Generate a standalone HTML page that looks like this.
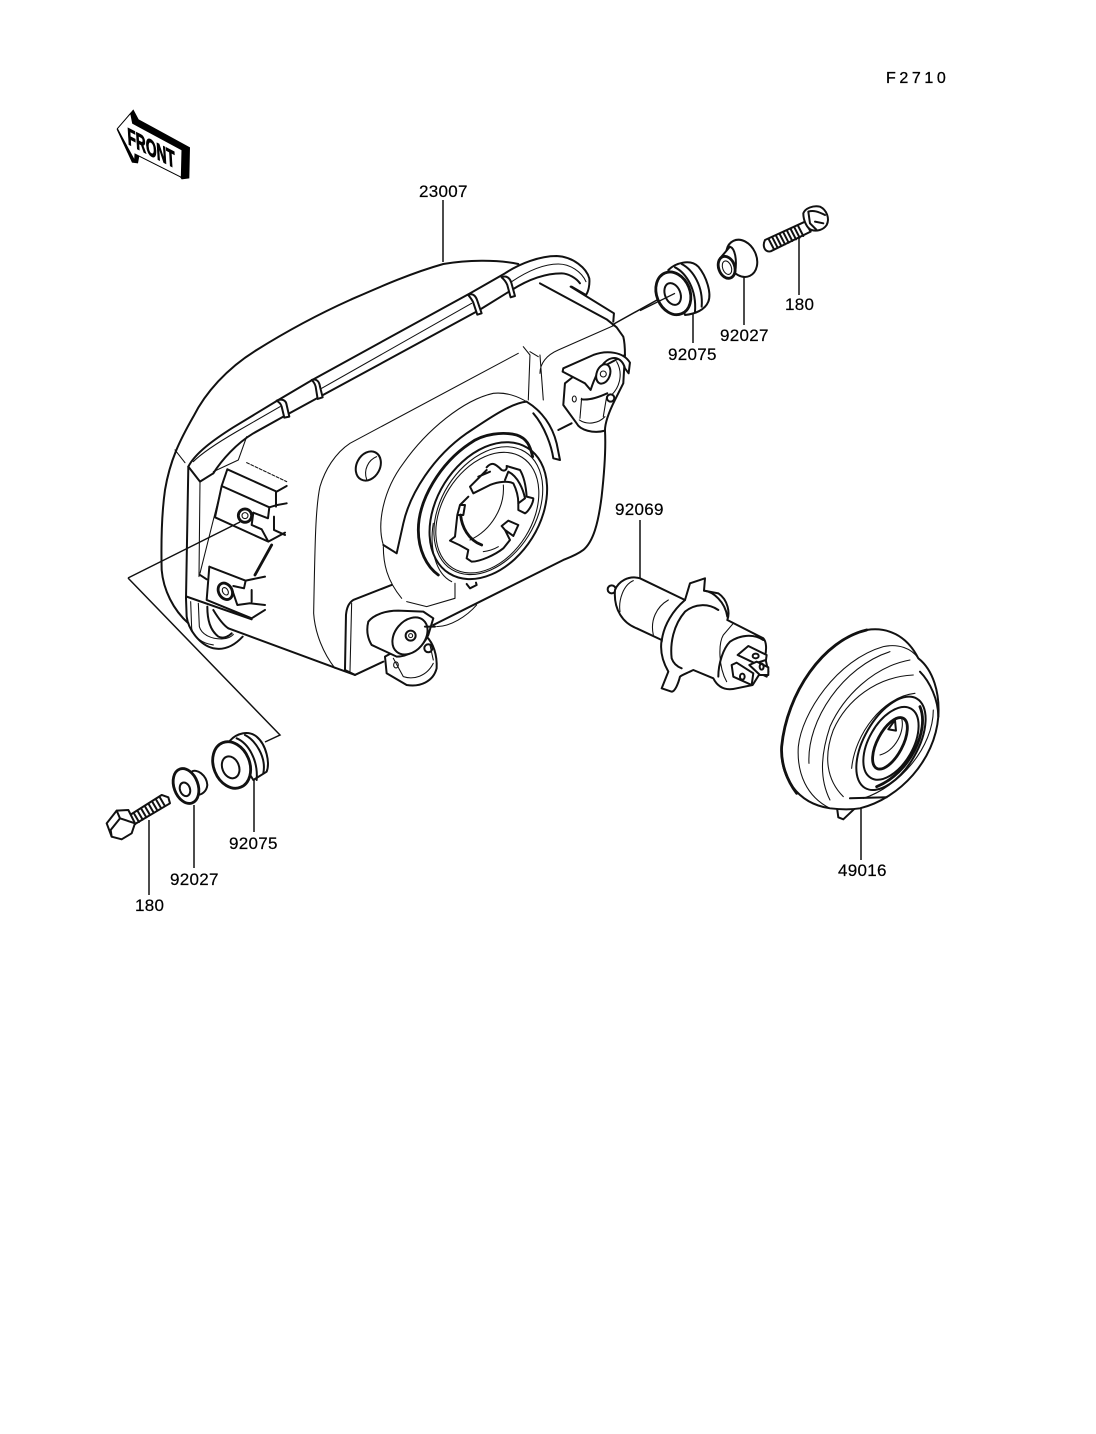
<!DOCTYPE html>
<html><head><meta charset="utf-8"><style>
html,body{margin:0;padding:0;background:#fff;width:1096px;height:1434px;overflow:hidden}
svg{display:block}
text{font-family:"Liberation Sans",sans-serif;fill:#000}
.m{fill:none;stroke:#111;stroke-width:6;stroke-linecap:round;stroke-linejoin:round}
.t{fill:none;stroke:#111;stroke-width:3.2;stroke-linecap:round;stroke-linejoin:round}
.h{fill:none;stroke:#111;stroke-width:8.5;stroke-linecap:round;stroke-linejoin:round}
.l{stroke:#111;stroke-width:1.5;fill:none}
</style></head><body>
<svg width="1096" height="1434" viewBox="0 0 1096 1434" xmlns="http://www.w3.org/2000/svg">
<rect width="1096" height="1434" fill="#fff"/>

<!-- leaders -->
<path class="l" d="M443 200V262M799 235V295M744 272V325M693 310V343M612 325L675 290M640 520V578M861 808V860M254 775V832M194 805V868M149 820V895M128 578L240 522M128 578L280 735L265 742"/>

<!-- Labels -->
<g font-size="17" letter-spacing="0.3" stroke="#000" stroke-width=".2">
<text x="419" y="197">23007</text>
<text x="785" y="310">180</text>
<text x="720" y="341">92027</text>
<text x="668" y="360">92075</text>
<text x="615" y="515">92069</text>
<text x="838" y="876">49016</text>
<text x="229" y="849">92075</text>
<text x="170" y="885">92027</text>
<text x="135" y="911">180</text>
</g>
<text x="886" y="83" font-size="16" letter-spacing="3.6" stroke="#000" stroke-width=".3">F2710</text>

<!-- FRONT arrow (zoom origin 100,100) -->
<g transform="translate(100,100) scale(.3333)">
<path d="M100,28 L116,58 L270,142 L268,235 L245,238 L238,228 L118,168 L114,190 L96,188 L50,88Z" fill="#000"/>
<path d="M92,40 L98,70 L246,150 L244,232 L105,162 L104,182 L52,86Z" fill="#fff" stroke="#000" stroke-width="3"/>
<text transform="matrix(.888,.46,.06,1,84,132)" font-size="72" font-weight="bold" textLength="160" lengthAdjust="spacingAndGlyphs" stroke="#000" stroke-width="3" style="fill:#000">FRONT</text>
</g>

<!-- Main headlight (zoom origin 150,240) -->
<g transform="translate(150,240) scale(.3333)">
<!-- lens -->
<path class="m" d="M1105,72C1040,58 950,60 880,72C780,100 680,145 600,180C500,225 400,280 320,330C230,385 165,460 130,530C90,600 60,660 45,750C35,820 33,900 35,990C40,1050 70,1110 115,1150"/>
<path class="t" d="M75,630L105,668"/>
<!-- band outer -->
<path class="m" d="M115,680C135,640 190,600 250,562L385,480L490,418L960,160L1065,100C1110,70 1170,48 1220,48C1270,50 1310,85 1318,115C1320,135 1315,155 1308,165L1265,140"/>
<path class="m" d="M190,700C215,660 260,610 310,580L400,530L510,470L985,212L1085,150C1140,115 1190,100 1235,100C1255,100 1280,115 1290,130"/>
<path class="t" d="M130,665C155,640 200,610 260,575L390,500M515,445L965,190M1085,125C1130,95 1180,72 1225,72C1260,72 1295,95 1308,125"/>
<path class="m" d="M115,680L150,725L190,700"/>
<!-- band clips -->
<path class="m" fill="#fff" style="fill:#fff" d="M380,482C395,475 408,480 410,495L418,530L403,533L395,500C392,488 385,486 380,482Z"/>
<path class="m" style="fill:#fff" d="M485,420C500,415 508,425 510,440L518,472L503,477L497,440C494,428 490,425 485,420Z"/>
<path class="m" style="fill:#fff" d="M955,165C970,158 978,170 982,182L995,220L982,224L970,188C966,178 960,172 955,165Z"/>
<path class="m" style="fill:#fff" d="M1055,112C1070,105 1080,115 1084,128L1095,168L1082,172L1072,135C1068,125 1062,118 1055,112Z"/>
<!-- frame left -->
<path class="m" d="M115,680L108,1075L110,1130C115,1170 150,1215 190,1225C225,1232 255,1215 278,1190"/>
<path class="t" d="M150,725L147,1010M122,1085L125,1165C130,1190 155,1210 190,1215M145,1090L148,1160C155,1185 185,1197 215,1197C232,1197 245,1190 250,1183"/>
<path class="m" d="M172,1100C172,1140 180,1170 205,1190C220,1197 235,1190 245,1180M190,1110C205,1135 220,1155 235,1165"/>
<path class="t" d="M290,590L265,660L190,695M215,740L150,1000"/>
<!-- upper bracket -->
<path class="t" stroke-dasharray="9 5" d="M290,668L410,725"/>
<path class="m" d="M232,688L380,755L410,738M232,688L215,738L358,802L382,795L410,790M215,738L195,832L355,905L405,878M358,802L354,835L310,818M378,755L378,800M372,830L372,870L405,885M310,818L305,855L335,868L355,905"/>
<circle cx="285" cy="827" r="20" class="h"/><circle cx="285" cy="827" r="9" class="t"/>
<path class="h" d="M365,915L315,1005"/>
<!-- lower bracket -->
<path class="m" d="M178,980L287,1022L345,1010M178,980L170,1080L305,1135L345,1110M287,1022L282,1045L250,1038M245,1045L262,1095L300,1090L345,1095M305,1050L305,1085M110,1070L305,1138"/>
<path class="m" d="M150,1005L170,1018"/>
<ellipse cx="226" cy="1054" rx="20" ry="26" transform="rotate(-30 226 1054)" class="h"/>
<ellipse cx="226" cy="1054" rx="8" ry="12" transform="rotate(-30 226 1054)" class="t"/>
<!-- housing -->
<path class="m" d="M235,1165L560,1285L615,1305L700,1265"/>
<path class="t" d="M1105,340L600,610C555,640 525,690 510,740C497,800 495,900 491,1120C495,1180 520,1240 555,1285"/>
<path class="m" d="M1170,130L1370,238L1400,262L1420,290C1425,310 1425,325 1425,345M1262,140L1392,220L1390,245M1365,570C1368,620 1365,680 1355,770C1345,850 1330,905 1300,930C1280,945 1260,952 1240,960L980,1090L850,1155"/>
<path class="t" d="M1120,320L1140,345L1135,480M1140,335L1165,350M1170,345L1180,480M1395,255L1225,330C1190,345 1170,370 1170,400"/>
<path class="m" d="M1225,570L1265,550"/>
<!-- lower panel -->
<path class="m" d="M725,1035L610,1080C595,1090 590,1105 588,1125L585,1290L615,1305"/>
<path class="t" d="M605,1090L600,1295"/>
<path class="t" d="M860,1160C900,1160 950,1130 980,1095"/>
<!-- small boss -->
<ellipse cx="655" cy="678" rx="35" ry="46" transform="rotate(28 655 678)" class="m"/>
<path class="t" d="M680,650C655,660 640,690 650,718"/>
</g>

<!-- reflector centre (zoom origin 370,390) -->
<g transform="translate(370,390) scale(.3333)">
<path class="t" d="M40,465C20,400 40,300 100,220C170,120 280,30 370,10C420,5 465,25 510,65"/>
<path class="m" d="M40,465L80,490L100,400C120,310 190,200 290,130C350,90 420,40 470,35C510,60 545,100 560,160L570,210L550,205C545,170 525,110 490,70"/>
<path class="t" d="M40,470C40,520 50,570 95,625M110,635L170,650L255,625L255,580"/>
<path class="h" d="M205,555C170,530 145,480 145,420C145,330 210,220 300,160C340,130 400,125 440,135C470,145 480,165 488,200"/>
<path class="t" d="M245,575C195,550 178,470 190,400"/>
<ellipse cx="355" cy="362" rx="222" ry="155" transform="rotate(-58 355 362)" class="m"/>
<ellipse cx="355" cy="362" rx="208" ry="142" transform="rotate(-58 355 362)" class="t"/>
<ellipse cx="352" cy="368" rx="196" ry="135" transform="rotate(-58 352 368)" class="t"/>
<path class="m" d="M290,582L300,595L320,585L318,578"/>
<!-- retainer -->
<path class="m" d="M350,232C365,215 375,220 395,240C405,245 412,238 410,228L450,240C462,260 468,290 470,320L490,325C490,340 475,365 465,370L445,360L445,340L465,325C460,300 445,260 415,245L405,270"/>
<path class="m" d="M350,240L300,290L310,310L360,285C385,275 415,272 430,280C440,300 445,320 445,340M325,260L360,245"/>
<path class="m" d="M295,320L270,345L285,345L280,375L262,375L270,345M262,375L255,440L240,452L268,465L295,480L290,505L305,515C330,515 375,495 400,475L420,450L405,420L395,408L415,392L445,405L430,438L405,420"/>
<path class="h" d="M272,375C275,410 295,450 335,465"/>
<path class="t" d="M400,285C405,350 365,420 300,450M340,485C360,482 375,476 385,470"/>
</g>

<!-- Sockets (zoom origin 150,240) -->
<g transform="translate(150,240) scale(.3333)">
<!-- upper -->
<path class="m" style="fill:#fff" d="M1245,430L1240,495L1280,550C1290,570 1330,582 1365,572C1365,545 1380,510 1395,480L1420,430L1425,345L1340,390L1270,410Z"/>
<path class="t" d="M1288,540C1310,555 1345,552 1365,530M1295,475L1290,535M1370,470L1360,530"/>
<path class="m" d="M1295,478C1320,482 1350,470 1372,460"/>
<path class="m" style="fill:#fff" d="M1240,385L1330,345C1370,330 1420,335 1440,368L1436,400L1425,385C1420,365 1405,350 1385,355C1360,360 1340,395 1322,450L1305,430L1238,395Z"/>
<ellipse cx="1360" cy="402" rx="20" ry="30" transform="rotate(20 1360 402)" class="m" style="fill:#fff"/>
<circle cx="1360" cy="402" r="9" class="t"/>
<ellipse cx="1273" cy="477" rx="6" ry="9" class="t"/>
<circle cx="1382" cy="474" r="11" class="m"/>
<path class="t" d="M1400,365C1420,400 1410,440 1385,465"/>
<!-- lower -->
<path class="m" style="fill:#fff" d="M705,1250L710,1300L770,1335C810,1342 850,1325 860,1285C862,1245 850,1210 830,1190L760,1220Z"/>
<path class="t" d="M730,1255L760,1310C790,1320 830,1310 850,1270M840,1215L850,1260"/>
<path class="m" style="fill:#fff" d="M655,1145C670,1125 705,1112 745,1112L820,1115L850,1135L835,1185C815,1230 770,1250 740,1250L665,1215C650,1190 650,1165 655,1145Z"/>
<ellipse cx="780" cy="1188" rx="45" ry="62" transform="rotate(40 780 1188)" class="m" style="fill:#fff"/>
<circle cx="782" cy="1187" r="15" class="m"/>
<circle cx="782" cy="1187" r="6" class="t"/>
<ellipse cx="738" cy="1275" rx="7" ry="9" class="t"/>
<circle cx="835" cy="1225" r="12" class="m"/>
<path class="m" d="M825,1160L855,1160"/>
</g>

<!-- Bulb & boot (zoom origin 590,560) -->
<g transform="translate(590,560) scale(.3333)">
<circle cx="65" cy="88" r="12" class="m"/>
<path class="m" style="fill:#fff" d="M75,90C85,65 115,45 150,55L285,120L300,70L345,55L342,92L385,100C415,120 420,160 412,180L520,235C530,245 530,270 525,290L535,335L530,350L510,340L488,375L440,385C400,395 380,375 370,355L310,330C290,340 275,345 270,350C265,370 255,395 245,395L215,385L235,335C215,300 210,270 215,240L140,205C100,190 70,150 75,90Z"/>
<path class="t" d="M90,155C85,120 100,75 130,62M190,225C180,180 200,140 235,120"/>
<path class="m" d="M285,120C250,150 220,195 215,245M342,92C370,95 405,125 412,170M245,295C240,250 250,195 285,155C315,130 355,130 385,150M245,295C250,310 262,320 275,325"/>
<path class="t" d="M430,190L400,225C385,250 385,320 410,365"/>
<path class="m" d="M520,240C490,220 450,225 420,245C400,265 385,310 385,350"/>
<path class="m" style="fill:#fff" d="M443,285L475,258L530,285L528,300L495,310Z"/>
<ellipse cx="497" cy="288" rx="9" ry="7" class="m"/>
<path class="m" style="fill:#fff" d="M478,315L500,305L535,322L535,345L510,345Z"/>
<ellipse cx="515" cy="320" rx="6" ry="9" class="m"/>
<path class="m" style="fill:#fff" d="M425,315L440,308L490,340L485,375L430,350Z"/>
<ellipse cx="457" cy="350" rx="7" ry="9" class="m"/>

<!-- boot -->
<path class="m" style="fill:#fff" d="M740,735L745,772L760,778L795,745Z"/>
<path class="m" style="fill:#fff" d="M985,295C950,225 890,200 830,210C700,240 590,400 575,560C570,650 620,730 720,745C745,748 780,750 810,745C930,715 1035,600 1045,470C1050,400 1030,330 985,295Z"/>
<path class="h" d="M830,210C700,240 590,400 575,560C572,610 590,660 620,700"/>
<path class="t" d="M720,745C650,710 620,640 625,560C635,460 740,300 880,260C925,250 965,265 985,295"/>
<path class="t" d="M657,610C650,480 760,320 900,275M720,720C690,660 690,590 720,500C760,410 850,320 960,300M760,710C710,660 700,590 730,510C770,420 860,350 970,345"/>
<path class="m" d="M990,335C1020,365 1045,420 1045,470M780,715L890,712"/>
<path class="t" d="M820,715C930,680 1030,560 1030,450"/>
<path class="t" d="M785,625C795,520 880,410 975,400"/>
<ellipse cx="903" cy="550" rx="155" ry="80" transform="rotate(-60 903 550)" class="m"/>
<path class="h" d="M990,440C1020,510 960,640 860,680"/>
<ellipse cx="903" cy="550" rx="120" ry="66" transform="rotate(-60 903 550)" class="m"/>
<ellipse cx="900" cy="550" rx="85" ry="38" transform="rotate(-62 900 550)" class="h"/>
<path class="t" d="M935,475C945,510 920,570 870,585"/>
<path class="m" d="M895,508L915,480L918,512Z"/>
</g>

<!-- Lower hardware (zoom origin 90,720) -->
<g transform="translate(90,720) scale(.3333)">
<path class="m" style="fill:#fff" d="M120,285L215,225L235,232L240,250L130,315Z"/>
<path class="m" d="M122,288L136,312M133,282L147,306M144,275L158,299M155,268L169,292M166,261L180,285M177,254L191,278M188,247L202,271M199,240L213,264M210,233L224,257"/>
<path class="m" style="fill:#fff" d="M50,310L80,272L115,270L135,310L125,340L95,358L65,350Z"/>
<path class="m" d="M80,272L90,295L62,330L65,350M90,295L135,310"/>
<path class="m" style="fill:#fff" d="M305,155C320,145 350,165 352,195C350,215 335,225 320,225Z"/>
<ellipse cx="288" cy="198" rx="36" ry="54" transform="rotate(-20 288 198)" class="h" style="fill:#fff"/>
<ellipse cx="285" cy="208" rx="15" ry="21" transform="rotate(-20 285 208)" class="m"/>
<path class="m" style="fill:#fff" d="M420,62C440,40 475,30 500,50C530,75 540,130 530,155L490,180L440,100Z"/>
<path class="m" d="M440,55C475,70 505,120 500,180M465,45C495,60 530,110 520,160"/>
<ellipse cx="425" cy="135" rx="54" ry="72" transform="rotate(-22 425 135)" class="h" style="fill:#fff"/>
<ellipse cx="422" cy="142" rx="25" ry="34" transform="rotate(-22 422 142)" class="m"/>
</g>

<!-- Upper hardware (zoom origin 640,190) -->
<g transform="translate(640,190) scale(.3333)">
<path class="m" style="fill:#fff" d="M375,150L495,95L512,125L392,184C375,187 366,170 375,150Z"/>
<path class="m" d="M386,147L402,178M397,142L413,173M408,137L424,168M419,132L435,163M430,127L446,158M441,122L457,153M452,117L468,148M463,112L479,143M474,107L490,138"/>
<path class="m" style="fill:#fff" d="M490,70C495,55 520,45 540,50C560,60 570,85 560,105C550,120 530,125 515,120C500,115 490,90 490,70Z"/>
<path class="m" d="M505,65C520,60 535,65 555,75M505,65L510,100L530,120M525,95L550,100"/>
<ellipse cx="305" cy="205" rx="44" ry="58" transform="rotate(-25 305 205)" class="m" style="fill:#fff"/>
<path class="m" style="fill:#fff" d="M240,205L270,170C285,175 292,210 285,250L265,262Z"/>
<ellipse cx="260" cy="232" rx="24" ry="34" transform="rotate(-20 260 232)" class="h" style="fill:#fff"/>
<ellipse cx="261" cy="233" rx="13" ry="21" transform="rotate(-20 261 233)" class="t"/>
<path class="m" style="fill:#fff" d="M85,240C105,220 150,205 175,230C200,260 215,310 205,335C195,360 165,372 135,375L110,300Z"/>
<path class="m" d="M105,232C140,250 170,300 165,365M125,222C160,240 190,290 185,350"/>
<ellipse cx="100" cy="310" rx="50" ry="66" transform="rotate(-22 100 310)" class="h" style="fill:#fff"/>
<ellipse cx="98" cy="312" rx="23" ry="34" transform="rotate(-22 98 312)" class="m"/>
<path class="l" stroke-width="4" style="stroke-width:4" d="M0,362L105,310"/>
</g>
</svg>
</body></html>
